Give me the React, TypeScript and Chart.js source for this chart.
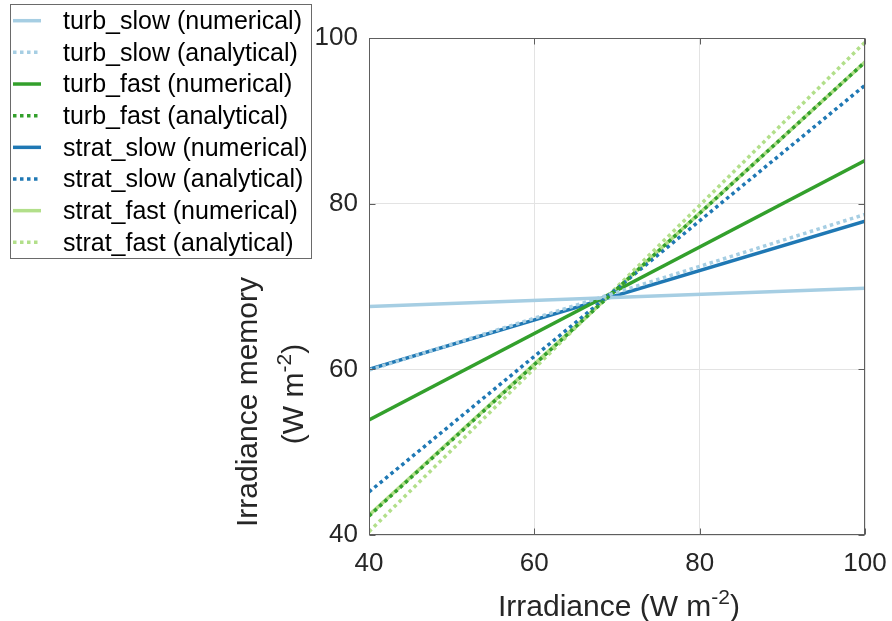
import React, { useEffect, useRef } from "react";
import { Chart, registerables } from "chart.js";

Chart.register(...registerables);

// ---- data ----
const xValues = [40, 100];
const seriesLabels = [
  "turb_slow (numerical)",
  "turb_slow (analytical)",
  "turb_fast (numerical)",
  "turb_fast (analytical)",
  "strat_slow (numerical)",
  "strat_slow (analytical)",
  "strat_fast (numerical)",
  "strat_fast (analytical)",
];
const turbSlowNumerical = [67.6, 69.8];
const turbSlowAnalytical = [59.9, 78.7];
const turbFastNumerical = [53.9, 85.2];
const turbFastAnalytical = [42.3, 97.1];
const stratSlowNumerical = [60.0, 77.9];
const stratSlowAnalytical = [45.2, 94.3];
const stratFastNumerical = [42.4, 97.1];
const stratFastAnalytical = [40.4, 99.5];
const xTicks = [40, 60, 80, 100];
const yTicks = [40, 60, 80, 100];

const seriesValues = [
  turbSlowNumerical,
  turbSlowAnalytical,
  turbFastNumerical,
  turbFastAnalytical,
  stratSlowNumerical,
  stratSlowAnalytical,
  stratFastNumerical,
  stratFastAnalytical,
];
const seriesColors = [
  "#a6cee3",
  "#a6cee3",
  "#33a02c",
  "#33a02c",
  "#1f78b4",
  "#1f78b4",
  "#b2df8a",
  "#b2df8a",
];

const FONT = '"Liberation Sans", Arial, Helvetica, sans-serif';
const TEXT = "#262626";
const AXIS = "#5e5e5e";
const LW = 3.5;
const DASH = [3.5, 3.5];

function drawSupText(
  ctx: CanvasRenderingContext2D,
  parts: { t: string; sup?: boolean }[],
  cx: number,
  baseline: number,
  size: number,
  supSize: number,
  raise: number
) {
  const widths = parts.map((p) => {
    ctx.font = `${p.sup ? supSize : size}px ${FONT}`;
    return ctx.measureText(p.t).width;
  });
  const total = widths.reduce((a, b) => a + b, 0);
  let x = cx - total / 2;
  ctx.textAlign = "left";
  ctx.textBaseline = "alphabetic";
  parts.forEach((p, i) => {
    ctx.font = `${p.sup ? supSize : size}px ${FONT}`;
    ctx.fillText(p.t, x, p.sup ? baseline - raise : baseline);
    x += widths[i];
  });
}

const decorPlugin = {
  id: "decor",
  afterDatasetsDraw(chart: any) {
    const { ctx, chartArea, scales } = chart;
    const { left, right, top, bottom } = chartArea;
    ctx.save();
    ctx.strokeStyle = AXIS;
    ctx.lineWidth = 1;
    const l = Math.round(left) + 0.5;
    const r = Math.round(right) - 0.5;
    const t = Math.round(top) + 0.5;
    const b = Math.round(bottom) - 0.5;
    ctx.strokeRect(l, t, r - l, b - t);
    const tl = 6;
    ctx.beginPath();
    xTicks.forEach((v) => {
      const px = Math.round(scales.x.getPixelForValue(v)) + 0.5;
      ctx.moveTo(px, b);
      ctx.lineTo(px, b - tl);
      ctx.moveTo(px, t);
      ctx.lineTo(px, t + tl);
    });
    yTicks.forEach((v) => {
      const py = Math.round(scales.y.getPixelForValue(v)) + 0.5;
      ctx.moveTo(l, py);
      ctx.lineTo(l + tl, py);
      ctx.moveTo(r, py);
      ctx.lineTo(r - tl, py);
    });
    ctx.stroke();
    ctx.restore();
  },
  afterDraw(chart: any) {
    const { ctx, chartArea } = chart;
    ctx.save();
    ctx.fillStyle = TEXT;
    // x title
    const cx = (chartArea.left + chartArea.right) / 2;
    drawSupText(
      ctx,
      [{ t: "Irradiance (W m" }, { t: "-2", sup: true }, { t: ")" }],
      cx + 2,
      616,
      30,
      21,
      12
    );
    // y title (rotated)
    ctx.save();
    ctx.translate(257, 402);
    ctx.rotate(-Math.PI / 2);
    drawSupText(ctx, [{ t: "Irradiance memory" }], 0, 0, 30, 21, 12);
    ctx.restore();
    ctx.save();
    ctx.translate(303, 394);
    ctx.rotate(-Math.PI / 2);
    drawSupText(
      ctx,
      [{ t: "(W m" }, { t: "-2", sup: true }, { t: ")" }],
      0,
      0,
      30,
      21,
      12
    );
    ctx.restore();

    // legend
    ctx.fillStyle = "#ffffff";
    ctx.fillRect(10, 4, 302, 255);
    ctx.strokeStyle = "#6a6a6a";
    ctx.lineWidth = 1;
    ctx.strokeRect(10.5, 4.5, 301, 254);
    chart.data.datasets.forEach((ds: any, i: number) => {
      const y = 20.7 + i * 31.66;
      ctx.strokeStyle = ds.borderColor;
      ctx.lineWidth = LW;
      ctx.lineCap = "butt";
      ctx.setLineDash(ds.borderDash || []);
      ctx.beginPath();
      ctx.moveTo(13, y);
      ctx.lineTo(41, y);
      ctx.stroke();
      ctx.setLineDash([]);
      ctx.fillStyle = "#000000";
      ctx.font = `25px ${FONT}`;
      ctx.textAlign = "left";
      ctx.textBaseline = "middle";
      ctx.fillText(ds.label, 63, y + 1.5);
    });
    ctx.restore();
  },
};

export default function App() {
  const ref = useRef<HTMLCanvasElement | null>(null);
  useEffect(() => {
    if (!ref.current) return;
    const datasets = seriesLabels.map((label, i) => {
      const analytical = label.includes("analytical");
      return {
        label,
        data: xValues.map((x, j) => ({ x, y: seriesValues[i][j] })),
        borderColor: seriesColors[i],
        backgroundColor: seriesColors[i],
        borderWidth: LW,
        borderDash: analytical ? DASH : [],
        borderCapStyle: "butt" as const,
        pointRadius: 0,
        fill: false,
        tension: 0,
        clip: 0,
        order: analytical ? 1 : 2,
      };
    });
    const chart = new Chart(ref.current, {
      type: "line",
      data: { datasets },
      options: {
        animation: false,
        responsive: false,
        events: [],
        layout: { padding: { top: 38, right: 27, left: 0, bottom: 0 } },
        plugins: {
          legend: { display: false },
          tooltip: { enabled: false },
          title: { display: false },
        },
        scales: {
          x: {
            type: "linear",
            min: 40,
            max: 100,
            afterBuildTicks: (s: any) => {
              s.ticks = xTicks.map((v) => ({ value: v }));
            },
            afterFit: (s: any) => {
              s.height = 86;
              s.paddingLeft = 0;
              s.paddingRight = 0;
            },
            grid: { color: "#e3e3e3", lineWidth: 1, drawTicks: false },
            border: { display: false },
            ticks: {
              padding: 13,
              color: TEXT,
              font: { family: FONT, size: 26 },
              maxRotation: 0,
            },
          },
          y: {
            type: "linear",
            min: 40,
            max: 100,
            afterBuildTicks: (s: any) => {
              s.ticks = yTicks.map((v) => ({ value: v }));
            },
            afterFit: (s: any) => {
              s.width = 369;
              s.paddingTop = 0;
              s.paddingBottom = 0;
            },
            grid: { color: "#e3e3e3", lineWidth: 1, drawTicks: false },
            border: { display: false },
            ticks: {
              padding: 11,
              color: TEXT,
              font: { family: FONT, size: 26 },
            },
          },
        },
      },
      plugins: [decorPlugin],
    });
    return () => chart.destroy();
  }, []);
  return (
    <div
      style={{
        position: "fixed",
        left: 0,
        top: 0,
        width: 892,
        height: 621,
        background: "#ffffff",
      }}
    >
      <canvas ref={ref} width={892} height={621} />
    </div>
  );
}
